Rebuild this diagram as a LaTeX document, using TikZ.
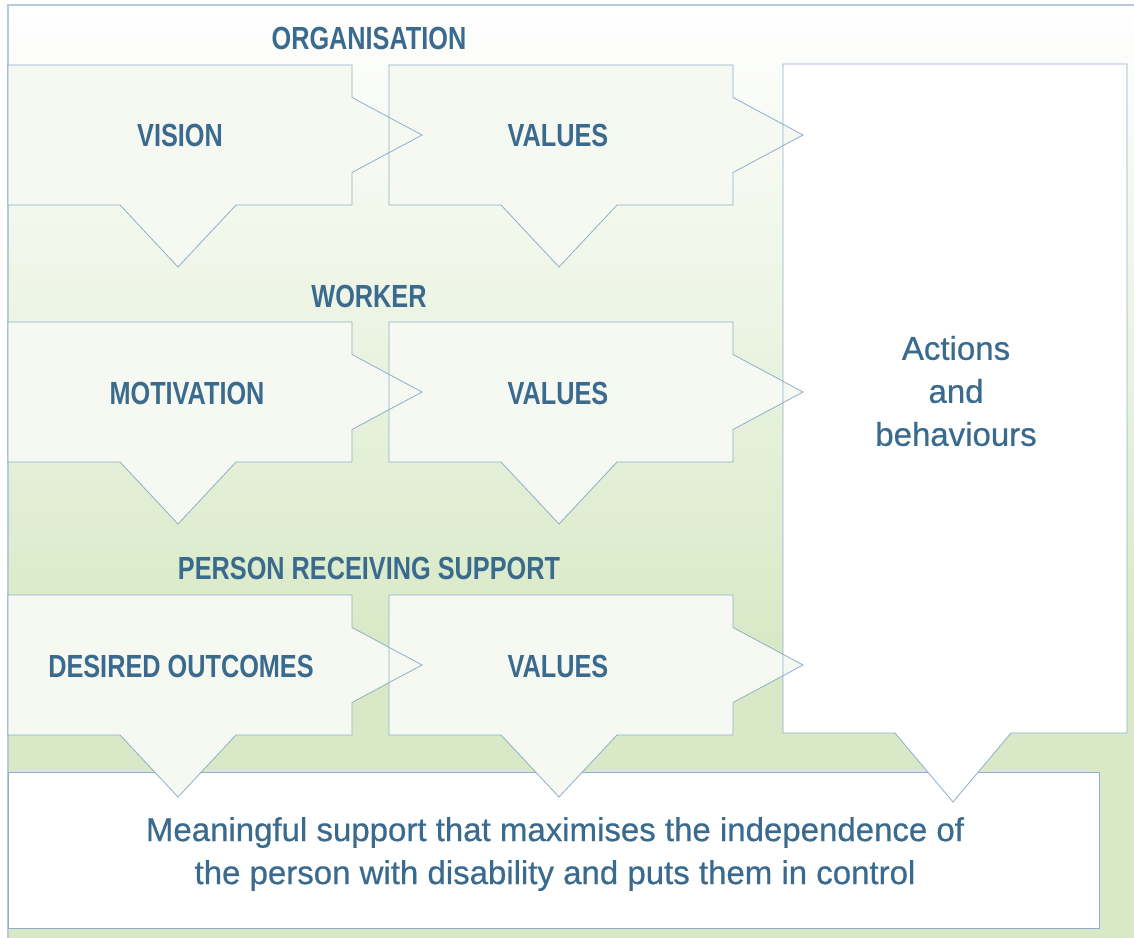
\documentclass[tikz,border=0pt]{standalone}
\usepackage{fontspec}
\setmainfont{Liberation Sans}[FakeBold=0.6]
\newfontfamily\headfont{Liberation Sans}[FakeStretch=0.79]
\usepackage{tikz}

\definecolor{labelblue}{HTML}{3A6B8E}
\definecolor{edgeblue}{HTML}{8FAECB}
\definecolor{framegrey}{HTML}{B9C9DA}
\definecolor{paleleaf}{HTML}{F6F9F1}
\definecolor{leafgreen}{HTML}{D9E9C7}

% one step arrow: [style]{left}{right}{top}{centre of the lower point}
\newcommand{\steparrow}[5][]{%
  \path[#1] (#2,#4) -- (#3,#4) -- (#3,#4+\notch) -- (#3+\tipW,#4+\rowH/2)
    -- (#3,#4+\rowH-\notch) -- (#3,#4+\rowH) -- (#5+\triW,#4+\rowH)
    -- (#5,#4+\rowH+\triD) -- (#5-\triW,#4+\rowH) -- (#2,#4+\rowH) -- cycle;}

\tikzset{
  heading/.style={font=\headfont\bfseries\fontsize{32}{36}\selectfont, text=labelblue},
  bodytext/.style={font=\fontsize{33}{43}\selectfont, text=labelblue, align=center},
  outline/.style={draw=edgeblue, line width=0.8pt},
}

\begin{document}
\begin{tikzpicture}[x=1pt,y=-1pt]

        % Canvas (pixels of the original)
        \useasboundingbox (0,0) rectangle (1134,937);
        \clip (0,0) rectangle (1134,937);

        % Background panel, white at the top to green further down
        \fill[leafgreen] (8,5) rectangle (1170,970);
        \shade[top color=white, bottom color=leafgreen] (8,5) rectangle (1170,640);
        \draw[framegrey, line width=1.2pt] (8,5) rectangle (1170,970);

        % Step arrow dimensions
        \def\rowH{140}
        \def\notch{32.5}
        \def\tipW{70}
        \def\triW{58}
        \def\triD{62}

        % Result box along the bottom
        \draw[outline, fill=white] (8,772) rectangle (1099,928);

        % Actions box on the right (filled now, outlined later)
        \path[fill=white] (783,64) -- (1127,64) -- (1127,733) -- (1011,733)
              -- (953,802) -- (895,733) -- (783,733) -- cycle;

        % Fill all arrows first, then outline them so overlaps show both edges
        \foreach \t in {65,322,595} {
            \steparrow[fill=paleleaf]{8}{352}{\t}{178}
            \steparrow[fill=paleleaf]{389}{733}{\t}{559}
        }
        \foreach \t in {65,322,595} {
            \steparrow[outline]{8}{352}{\t}{178}
            \steparrow[outline]{389}{733}{\t}{559}
        }
        \draw[outline] (783,64) -- (1127,64) -- (1127,733) -- (1011,733)
              -- (953,802) -- (895,733) -- (783,733) -- cycle;

        % Row headings and arrow labels
        \node[heading] (org) at (369,38) {ORGANISATION};
        \node[heading] (vision) at (180,135) {VISION};
        \node[heading] (orgvalues) at (558,135) {VALUES};

        \node[heading] (worker) at (369,296) {WORKER};
        \node[heading] (motivation) at (187,393) {MOTIVATION};
        \node[heading] (workervalues) at (558,393) {VALUES};

        \node[heading] (person) at (369,568) {PERSON RECEIVING SUPPORT};
        \node[heading] (outcomes) at (181,666) {DESIRED OUTCOMES};
        \node[heading] (personvalues) at (558,666) {VALUES};

        % Right and bottom texts
        \node[bodytext] (actions) at (956,391) {Actions\\and\\behaviours};
        \node[bodytext] (result) at (555,854)
             {Meaningful support that maximises the independence of\\
              the person with disability and puts them in control};

\end{tikzpicture}
\end{document}
